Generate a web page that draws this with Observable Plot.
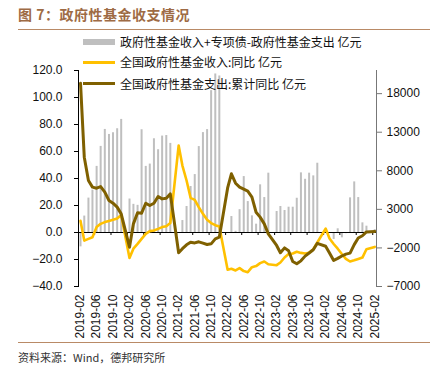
<!DOCTYPE html>
<html><head><meta charset="utf-8">
<script src="https://cdn.jsdelivr.net/npm/d3@7"></script>
<script src="https://cdn.jsdelivr.net/npm/@observablehq/plot@0.6"></script>
<style>
body{margin:0;background:#fff;}
#wrap{position:relative;width:435px;height:375px;overflow:hidden;font-family:"Noto Sans CJK SC","Noto Sans",sans-serif;}
#chart{position:absolute;left:0;top:0;}
.title{position:absolute;left:18px;top:4px;font-size:14px;font-weight:bold;color:#9E6B45;letter-spacing:0.5px;white-space:nowrap;}
.rule{position:absolute;left:18px;width:412px;height:0;border-top:1.5px solid #B98A66;}
.leg{position:absolute;font-size:12px;color:#111;white-space:nowrap;line-height:14px;}
.sw{position:absolute;left:83px;width:32px;}
.src{position:absolute;left:18px;top:349px;font-size:11px;color:#333;white-space:nowrap;}
</style>
</head><body><div id="wrap"><div id="chart"></div>
<div class="title">图 7：政府性基金收支情况</div>
<div class="rule" style="top:29px"></div>
<div class="sw" style="top:39px;height:6px;background:#BFBFBF"></div>
<div class="leg" style="left:120px;top:35px">政府性基金收入+专项债-政府性基金支出 亿元</div>
<div class="sw" style="top:61px;height:3px;background:#FFC000"></div>
<div class="leg" style="left:120px;top:55px">全国政府性基金收入:同比 亿元</div>
<div class="sw" style="top:82px;height:3px;background:#7F6000"></div>
<div class="leg" style="left:120px;top:77px">全国政府性基金支出:累计同比 亿元</div>
<div class="rule" style="top:342px"></div>
<div class="src">资料来源：Wind，德邦研究所</div>
</div>
<script>
const months = ["2019-02","2019-03","2019-04","2019-05","2019-06","2019-07","2019-08","2019-09","2019-10","2019-11","2019-12",
"2020-02","2020-03","2020-04","2020-05","2020-06","2020-07","2020-08","2020-09","2020-10","2020-11","2020-12",
"2021-02","2021-03","2021-04","2021-05","2021-06","2021-07","2021-08","2021-09","2021-10","2021-11","2021-12",
"2022-02","2022-03","2022-04","2022-05","2022-06","2022-07","2022-08","2022-09","2022-10","2022-11","2022-12",
"2023-02","2023-03","2023-04","2023-05","2023-06","2023-07","2023-08","2023-09","2023-10","2023-11","2023-12",
"2024-02","2024-03","2024-04","2024-05","2024-06","2024-07","2024-08","2024-09","2024-10","2024-11","2024-12",
"2025-02"];
// 政府性基金收入+专项债-政府性基金支出（亿元，右轴）
const balance = [-1860,2130,4460,5500,8570,11160,13360,12710,12930,13450,14660,
4340,3650,3520,13320,8570,8870,12150,10730,12500,12570,11550,
null,1550,3370,5960,7510,11140,12950,13340,18390,20550,20290,
null,2070,150,2960,7250,4010,2160,1080,6180,4530,7690,
2720,3370,2850,3280,3280,4440,7730,6900,7690,7340,8980,
null,null,-900,480,-690,-150,4490,6560,4530,1250,820,
370];
// 全国政府性基金收入:同比（左轴）
const incomeYoY = [8.6,-6,-4.7,-3.5,4,6.4,7.7,8.6,9.4,10.4,13,
-18.8,-12,-8.4,-4.7,-1,1,1.5,2.7,4,4.7,7,
64.4,49.6,38.5,25.7,24.2,18.8,13.8,9.4,7,5.4,4.4,
-27.6,-26.9,-28.1,-26.4,-28.6,-29.4,-25.7,-24.9,-22.7,-21.5,-23.5,
-24.2,-22.2,-18.5,-16,-15.6,-14.3,-15.1,-15.6,-15,-12.3,-7.4,
2.9,-4.5,-8.5,-12,-15.9,-19.5,-21.5,-20.6,-19.6,-18.6,-12.4,
-10.7];
// 全国政府性基金支出:累计同比（左轴）
const spendYoY = [110.6,55.8,38.5,33.6,32.8,34,29.9,23.7,21.7,18.8,13.8,
-10.9,6.4,14.6,14.3,21.7,20,21.7,26.7,24.9,25.4,28.6,
-15,-12,-9.1,-7.2,-7.7,-6.9,-7.9,-8.9,-8.4,-4.7,-3.5,
33,43.5,36.5,33.6,32.1,30.6,26.2,15,11.4,6.4,-1,
-9.6,-15,-11.4,-13.5,-21.5,-23.2,-21,-17.5,-15.2,-12.8,-8,
-10.2,-15.2,-20.7,-19.2,-17.4,-16,-15.3,-9,-4.1,-2.4,0.4,
0.8];
const leftTicks = [-40,-20,0,20,40,60,80,100,120];
const rightTicks = [-7000,-2000,3000,8000,13000,18000];
const xTickLabels = ["2019-02","2019-06","2019-10","2020-02","2020-06","2020-10","2021-02","2021-06","2021-10",
"2022-02","2022-06","2022-10","2023-02","2023-06","2023-10","2024-02","2024-06","2024-10","2025-02"];

const leftDomain = [-40, 120];
const rightDomain = [-7000, 21000];
const ratio = (rightDomain[1] - rightDomain[0]) / (leftDomain[1] - leftDomain[0]);

const parse = d3.utcParse("%Y-%m");
const rows = months.map((m, i) => ({date: parse(m), bal: balance[i], inc: incomeYoY[i], sp: spendYoY[i]}));
const labelDates = xTickLabels.map(parse);
const tickDates = labelDates.map(d => d3.utcDay.offset(d, -15)).filter(d => d >= parse("2019-02"));

const chart = Plot.plot({
  width: 435,
  height: 375,
  marginLeft: 78,
  marginRight: 59,
  marginTop: 70,
  marginBottom: 89,
  style: {fontFamily: "'Liberation Sans', Arial, sans-serif", fontSize: "12px", color: "#111", background: "transparent"},
  x: {type: "utc", domain: [new Date(Date.UTC(2019,0,17)), new Date(Date.UTC(2025,1,14))]},
  y: {domain: leftDomain},
  marks: [
    Plot.ruleX(rows.filter(d => d.bal != null), {x: "date", y1: 0, y2: d => d.bal / ratio, stroke: "#BFBFBF", strokeWidth: 2}),
    Plot.ruleY([0], {stroke: "#000", strokeWidth: 1}),
    Plot.ruleX(tickDates, {x: d => d, y1: 0, y2: -3 * (leftDomain[1] - leftDomain[0]) / 216, stroke: "#000"}),
    Plot.line(rows, {x: "date", y: "inc", stroke: "#FFC000", strokeWidth: 2.6, curve: "linear"}),
    Plot.line(rows, {x: "date", y: "sp", stroke: "#7F6000", strokeWidth: 3, curve: "linear"}),
    Plot.frame({anchor: "left", stroke: "#000"}),
    Plot.frame({anchor: "right", stroke: "#777"}),
    Plot.axisY({anchor: "left", ticks: leftTicks, tickFormat: d3.format(".1f"), tickSize: 4, tickPadding: 12, stroke: "#000"}),
    Plot.axisY({anchor: "right", ticks: rightTicks.map(r => r / ratio), tickFormat: d => d3.format("d")(Math.round(d * ratio)), tickSize: 5, tickPadding: 5, stroke: "#777"}),
    Plot.axisX({anchor: "bottom", ticks: labelDates, tickFormat: d3.utcFormat("%Y-%m"), tickRotate: -90, tickSize: 0, tickPadding: 8})
  ]
});
document.getElementById("chart").appendChild(chart);
</script>
</body></html>
